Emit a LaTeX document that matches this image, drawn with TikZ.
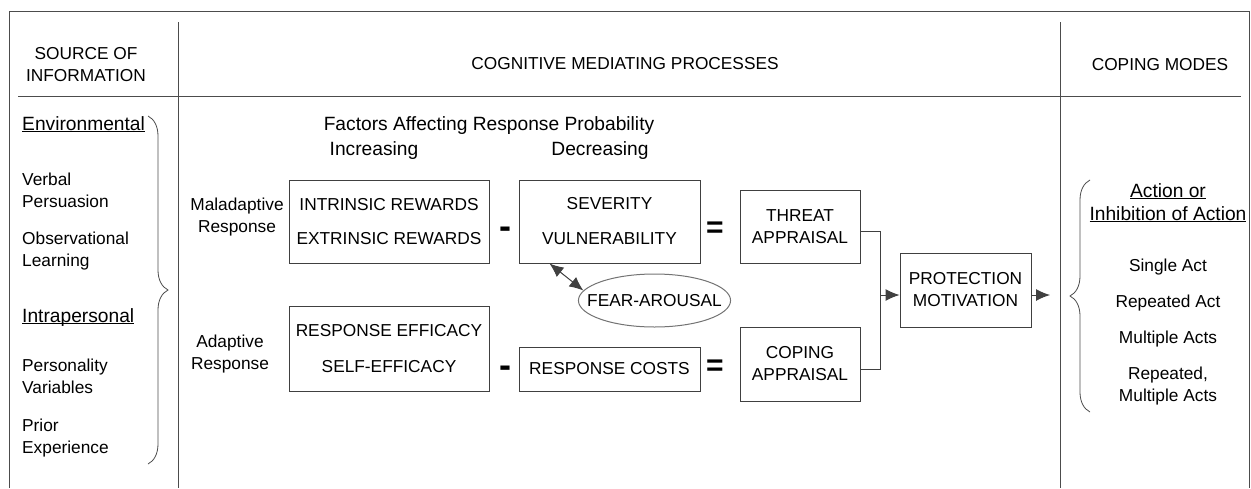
\documentclass[tikz,border=0pt]{standalone}
\usepackage{fontspec}
\setmainfont{Liberation Sans}
\usetikzlibrary{shapes.geometric,arrows.meta,decorations.pathreplacing,positioning}
\newcommand{\undl}[1]{\underline{\smash{#1}}}

\begin{document}
\begin{tikzpicture}[x=1pt, y=-1pt,
  every node/.style={font=\fontsize{17.3}{22}\selectfont, inner sep=0pt},
  big/.style={font=\fontsize{19.2}{23}\selectfont},
  box/.style={draw=black!75, line width=1pt, align=center},
  rule/.style={draw=black!70, line width=1pt},
  sign/.style={font=\fontsize{30}{30}\selectfont\bfseries},
  wire/.style={draw=black!75, line width=1pt},
  arr/.style={wire, -{Latex[length=14pt,width=12pt]}},
  dbl/.style={wire, {Latex[length=14pt,width=12pt]}-{Latex[length=14pt,width=12pt]}},
  brc/.style={decorate, decoration={brace, amplitude=20pt}, draw=black!70, line width=0.8pt}]
\useasboundingbox (0,0) rectangle (1251,488);
\draw[rule] (9,488) |- (1249,11) -- (1249,488);
\draw[rule] (178,22) -- (178,488);
\draw[rule] (1060,22) -- (1060,488);
\draw[rule] (18,96) -- (1241,96);

\node[align=center] (src) at (86,64.5) {SOURCE OF\\INFORMATION};
\node (cmp) at (625,64) {COGNITIVE MEDIATING PROCESSES};
\node (cm) at (1160,65) {COPING MODES};

\node[big, anchor=west] (env) at (22,131) {\undl{Environmental}};
\node[anchor=west, align=left] (vp) at (22,190) {Verbal\\Persuasion};
\node[anchor=west, align=left] (ol) at (22,251.5) {Observational\\Learning};
\node[big, anchor=west] (intra) at (22,323) {\undl{Intrapersonal}};
\node[anchor=west, align=left] (pv) at (22,376) {Personality\\Variables};
\node[anchor=west, align=left] (pe) at (22,438.5) {Prior\\Experience};
\draw[brc] (148,116) -- (148,464);

\node[big] (fac) at (489,126) {Factors Affecting Response Probability};
\node[big] (inc) at (374,151) {Increasing};
\node[big] (dec) at (600,151) {Decreasing};
\node[align=center] (mal) at (237,217) {Maladaptive\\Response};
\node[align=center] (ada) at (230,354.5) {Adaptive\\Response};

\node[box, minimum width=200, minimum height=83] (rew) at (389,221.5) {INTRINSIC REWARDS\\[12pt]EXTRINSIC REWARDS};
\node[box, minimum width=181, minimum height=83] (sev) at (609.5,221.5) {SEVERITY\\[13pt]VULNERABILITY};
\node[box, minimum width=120, minimum height=73] (thr) at (800,226.5) {THREAT\\APPRAISAL};
\node[box, minimum width=200, minimum height=85] (eff) at (389,348.5) {RESPONSE EFFICACY\\[14pt]SELF-EFFICACY};
\node[box, minimum width=181, minimum height=44] (cost) at (609.5,369) {RESPONSE COSTS};
\node[box, minimum width=120, minimum height=74] (cop) at (800,364) {COPING\\APPRAISAL};
\node[box, minimum width=131, minimum height=74] (pm) at (965.5,290) {PROTECTION\\MOTIVATION};
\node[draw=black!55, line width=1pt, ellipse, inner xsep=-13.5pt, minimum height=53] (fear) at (654.5,300.5) {FEAR-AROUSAL};

\node[sign, font=\fontsize{36}{36}\selectfont\bfseries] (min1) at (505,233) {-};
\node[sign, font=\fontsize{36}{36}\selectfont\bfseries] (min2) at (505,371.5) {-};
\node[sign] (eq1) at (715,230) {=};
\node[sign] (eq2) at (715,367.5) {=};

\draw[dbl] ([xshift=31pt]sev.south west) -- (fear.172);
\coordinate (jn) at (880,295);
\draw[wire] ([yshift=-4.5pt]thr.east) -| (jn);
\draw[wire] ([yshift=-5pt]cop.east) -| (jn);
\draw[arr] (jn) -- ([yshift=-5pt]pm.west);
\coordinate (out) at (1050,295);
\draw[arr] ([yshift=-5pt]pm.east) -- (out);

\node[big, align=center] (act) at (1168,209.5) {\undl{Action or}\\\undl{Inhibition of Action}};
\node (single) at (1168,267) {Single Act};
\node (rep) at (1168,303) {Repeated Act};
\node (mult) at (1168,339) {Multiple Acts};
\node[align=center] (repm) at (1168,386.5) {Repeated,\\Multiple Acts};
\draw[brc] (1090,412) -- (1090,180);
\end{tikzpicture}
\end{document}
